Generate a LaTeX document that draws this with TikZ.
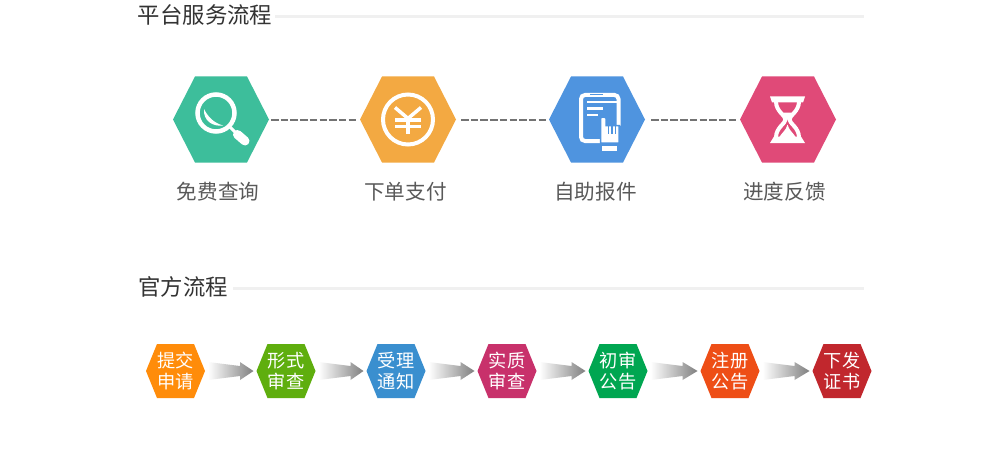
\documentclass[tikz,border=0pt]{standalone}
\usepackage{fontspec}
\usetikzlibrary{shapes.symbols,calc}
\newfontfamily\cjk{Noto Sans CJK SC}
\definecolor{hgreen}{HTML}{3DBE9B}
\definecolor{horange}{HTML}{F3A942}
\definecolor{hblue}{HTML}{4F94DF}
\definecolor{hpink}{HTML}{E04A78}
\begin{document}
\begin{tikzpicture}[x=1pt,y=-1pt,
	big/.append style={shape=signal,signal to=east and west,signal pointer angle=125.8,minimum width=96pt,minimum height=86pt,inner sep=0pt,outer sep=0pt},
	small/.append style={shape=signal,signal to=east and west,signal pointer angle=135.7,minimum width=59pt,minimum height=54pt,inner sep=0pt,outer sep=0pt,text=white,align=center,font=\cjk\fontsize{18.2}{21}\selectfont},
	title/.append style={inner sep=0pt,text=black!80,font=\cjk\fontsize{22.4}{24}\selectfont},
	label/.append style={inner sep=0pt,text=black!65,font=\cjk\fontsize{20.6}{24}\selectfont},
	rule/.append style={line width=3pt,color=black!6},
	a/.append style={line width=2pt,color=black!55,dash pattern=on 7.5pt off 2.2pt},
	icon/.append style={line width=4.5pt,color=white}]
\fill[white] (0,0) rectangle (994,460);
\node[title] (t1) at (205,15) {平台服务流程};
\node[title] (t2) at (183,287) {官方流程};
\coordinate (r1a) at (275,17);
\coordinate (r1b) at (864,17);
\coordinate (r2a) at (233,288);
\coordinate (r2b) at (864,288);
\draw[rule] (r1a) -- (r1b);
\draw[rule] (r2a) -- (r2b);
\node[big,fill=hgreen] (h1) at (221,119.5) {};
\node[big,fill=horange] (h2) at (408,119.5) {};
\node[big,fill=hblue] (h3) at (597,119.5) {};
\node[big,fill=hpink] (h4) at (788,119.5) {};
\draw[a,shorten <=2pt,shorten >=2pt] (h1) -- (h2);
\draw[a,shorten <=5pt,shorten >=2pt] (h2) -- (h3);
\draw[a,shorten <=6pt,shorten >=3pt] (h3) -- (h4);
\node[label] (l1) at (218,192) {免费查询};
\node[label] (l2) at (405.5,192) {下单支付};
\node[label] (l3) at (595.5,192) {自助报件};
\node[label] (l4) at (784.5,192) {进度反馈};
% magnifier
\begin{scope}[shift={(h1.center)}]
\draw[icon] (-5,-6.5) circle (18.5);
\fill[white] (-17,-10.5) .. controls (-18,0.5) and (-9,7.5) .. (2,6) .. controls (-7,3.5) and (-13,-2.5) .. (-17,-10.5) -- cycle;
\draw[icon,line width=3pt] (9,7.5) -- (16,14.5);
\draw[icon,line width=9pt,line cap=round] (16.5,15) -- (24,21.5);
\end{scope}
% yen
\begin{scope}[shift={(h2.center)}]
\draw[icon,line width=4pt] (0,0) circle (25);
\draw[icon,line width=3.5pt] (-13,-12) -- (0,-1) -- (13,-12);
\draw[icon,line width=3.5pt] (-13,0.5) -- (13,0.5);
\draw[icon,line width=3.5pt] (-13,7) -- (13,7);
\draw[icon,line width=3.5pt] (0,-1) -- (0,14);
\end{scope}
% tablet
\begin{scope}[shift={(h3.center)}]
\draw[icon,line width=4pt,rounded corners=4pt] (3,21.5) -- (-16,21.5) -- (-16,-24.5) -- (21.5,-24.5) -- (21.5,6);
\draw[hblue,line width=1pt] (-7,-24.5) -- (6,-24.5);
\draw[white,line width=2pt] (-10,-17) -- (20,-17);
\draw[white,line width=2pt] (-10,-11) -- (6,-11);
\draw[white,line width=2pt] (-10,-5) -- (1,-5);
\fill[white,draw=hblue,line width=1.5pt] (3.5,23.5) -- (3.5,-1) .. controls (3.5,-3) and (9,-3) .. (9,-1) -- (9,6) -- (22,6) -- (22,23.5) -- cycle;
\draw[hblue,line width=1.5pt] (11.5,5) -- (11.5,14);
\draw[hblue,line width=1.5pt] (15,5) -- (15,14);
\draw[hblue,line width=1.5pt] (18.5,5) -- (18.5,14);
\fill[white] (5,26) rectangle (20,31);
\end{scope}
% hourglass
\begin{scope}[shift={(h4.center)}]
\fill[white] (-18,-23) -- (17,-23) -- (15,-17) -- (-16,-17) -- cycle;
\fill[white] (-14,17) -- (13,17) -- (17,23.5) -- (-18,23.5) -- cycle;
\draw[icon,line width=4pt] (-12,-18) .. controls (-12,-8) and (-2.5,-4) .. (-2.5,0) .. controls (-2.5,4) and (-12,8) .. (-12,18);
\draw[icon,line width=4pt] (11,-18) .. controls (11,-8) and (1.5,-4) .. (1.5,0) .. controls (1.5,4) and (11,8) .. (11,18);
\fill[white] (-7,-7) -- (6,-7) -- (-0.5,0) -- cycle;
\fill[white] (-0.5,5) .. controls (-2,11) and (-6,13) .. (-9,18) -- (8,18) .. controls (5,13) and (1,11) .. (-0.5,5) -- cycle;
\end{scope}
\node[small,fill={rgb,255:red,255;green,140;blue,10}] (s1) at (175.5,371) {提交\\申请};
\node[small,fill={rgb,255:red,95;green,174;blue,14}] (s2) at (286,371) {形式\\审查};
\node[small,fill={rgb,255:red,58;green,143;blue,207}] (s3) at (396,371) {受理\\通知};
\node[small,fill={rgb,255:red,200;green,49;blue,107}] (s4) at (507,371) {实质\\审查};
\node[small,fill={rgb,255:red,0;green,166;blue,81}] (s5) at (618,371) {初审\\公告};
\node[small,fill={rgb,255:red,238;green,78;blue,22}] (s6) at (730,371) {注册\\公告};
\node[small,fill={rgb,255:red,193;green,39;blue,45}] (s7) at (842,371) {下发\\证书};
\foreach \a/\b in {s1/s2,s2/s3,s3/s4,s4/s5,s5/s6,s6/s7}
	\shade[left color=white,middle color=black!28,right color=black!50] ($(\a.east)+(3,-9)$) -- ($(\a.east)+(35,-5)$) -- ($(\a.east)+(35,-9)$) -- ($(\b.west)+(-3,0)$) -- ($(\a.east)+(35,9)$) -- ($(\a.east)+(35,5)$) -- ($(\a.east)+(3,9)$) -- cycle;
\end{tikzpicture}
\end{document}
